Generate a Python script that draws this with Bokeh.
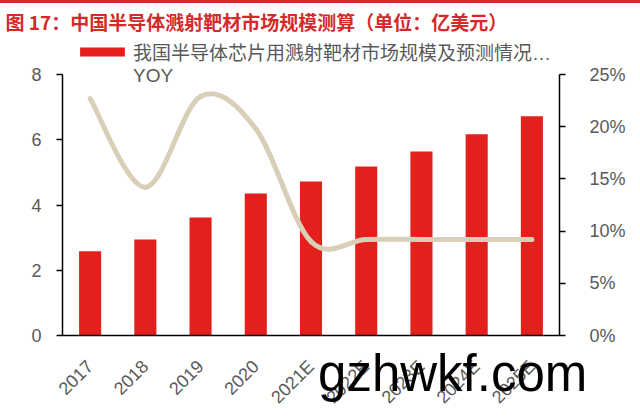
import math
from bokeh.plotting import figure
from bokeh.layouts import column
from bokeh.models import (Range1d, LinearAxis, Legend, LegendItem, FixedTicker,
                          PrintfTickFormatter, ColumnDataSource, Title, Div)
from bokeh.embed import file_html
from bokeh.resources import INLINE

# ---------------- data ----------------
years = ["2017", "2018", "2019", "2020", "2021E", "2022E", "2023E", "2024E", "2025E"]
market = [2.58, 2.94, 3.62, 4.35, 4.72, 5.18, 5.64, 6.17, 6.72]   # 亿美元
yoy = [22.7, 14.2, 22.9, 19.8, 9.0, 9.2, 9.2, 9.2, 9.2]          # %
left_ticks = [0, 2, 4, 6, 8]
right_ticks = [0, 5, 10, 15, 20, 25]
title_text = "图 17：中国半导体溅射靶材市场规模测算（单位：亿美元）"
bar_label = "我国半导体芯片用溅射靶材市场规模及预测情况…"
line_label = "YOY"
watermark = "gzhwkf.com"

BAR_RED = "#E3201B"
LINE_BEIGE = "#D9CFB8"
TITLE_RED = "#D42A2A"
GREY = "#595959"
NUM_FONT = "Liberation Sans"
CJK_FONT = "Noto Sans CJK SC"

# layout geometry (px in the figure)
W, H = 640, 416
TOP, BOTTOM = 31, 332          # frame top / bottom
AX_TOP = 71                    # where value 8 / 25% sits
scale = (BOTTOM - TOP) / (BOTTOM - AX_TOP)
L_MAX, R_MAX = left_ticks[-1], right_ticks[-1]

xs = list(range(len(years)))

p = figure(width=W, height=H, x_range=Range1d(-0.5, len(years) - 0.5),
           y_range=Range1d(0, L_MAX * scale), output_backend="svg",
           toolbar_location=None, min_border_left=62, min_border_right=81,
           min_border_top=TOP, min_border_bottom=H - BOTTOM)
p.extra_y_ranges = {"yoy": Range1d(0, R_MAX * scale)}
p.outline_line_color = None
p.xgrid.visible = False
p.ygrid.visible = False
p.background_fill_color = "white"
p.border_fill_color = "white"

src = ColumnDataSource(dict(x=xs, market=market))
bars = p.vbar(x="x", top="market", width=0.4, source=src, fill_color=BAR_RED,
              line_color=None)

# smoothed YOY line (Catmull-Rom -> cubic Bezier segments, like Excel's smoothed line)
x0s, y0s, x1s, y1s, cx0s, cy0s, cx1s, cy1s = [], [], [], [], [], [], [], []
n = len(yoy)
for i in range(n - 1):
    pm = max(i - 1, 0)
    pp = min(i + 2, n - 1)
    x0s.append(xs[i]); y0s.append(yoy[i])
    x1s.append(xs[i + 1]); y1s.append(yoy[i + 1])
    cx0s.append(xs[i] + (xs[i + 1] - xs[pm]) / 6.0)
    cy0s.append(yoy[i] + (yoy[i + 1] - yoy[pm]) / 6.0)
    cx1s.append(xs[i + 1] - (xs[pp] - xs[i]) / 6.0)
    cy1s.append(yoy[i + 1] - (yoy[pp] - yoy[i]) / 6.0)
bsrc = ColumnDataSource(dict(x0=x0s, y0=y0s, x1=x1s, y1=y1s,
                             cx0=cx0s, cy0=cy0s, cx1=cx1s, cy1=cy1s))
p.bezier(x0="x0", y0="y0", x1="x1", y1="y1", cx0="cx0", cy0="cy0", cx1="cx1",
         cy1="cy1", source=bsrc, y_range_name="yoy", line_color=LINE_BEIGE,
         line_width=5, line_cap="round")
legend_line = p.line(x=[], y=[], line_color=LINE_BEIGE, line_width=5,
                     y_range_name="yoy")

# ---------------- axes ----------------
for ax in [p.xaxis[0], p.yaxis[0]]:
    ax.axis_line_color = "black"
    ax.axis_line_width = 1.5
    ax.major_label_text_color = GREY
    ax.major_label_text_font = NUM_FONT
    ax.minor_tick_line_color = None

p.yaxis.ticker = FixedTicker(ticks=left_ticks)
p.yaxis.bounds = (left_ticks[0], L_MAX)
p.yaxis.major_tick_in = 0
p.yaxis.major_tick_out = 6
p.yaxis.major_tick_line_width = 1.5
p.yaxis.major_label_text_font_size = "18px"
p.yaxis.major_label_standoff = 15

xa = p.xaxis[0]
xa.ticker = FixedTicker(ticks=xs)
xa.major_label_overrides = {i: y for i, y in zip(xs, years)}
xa.major_tick_line_color = None
xa.major_label_orientation = math.pi / 4
xa.major_label_text_font_size = "18px"
xa.major_label_standoff = 22
# watermark of the source picture, drawn as the x axis' label over the tick labels
xa.axis_label = "\u00a0" * 20 + watermark
xa.axis_label_text_font = NUM_FONT
xa.axis_label_text_font_style = "normal"
xa.axis_label_text_font_size = "51px"
xa.axis_label_text_color = "black"
xa.axis_label_standoff = -72
xa.axis_label_align = "center"

ra = LinearAxis(y_range_name="yoy", ticker=FixedTicker(ticks=right_ticks),
                formatter=PrintfTickFormatter(format="%d%%"),
                bounds=(right_ticks[0], R_MAX))
ra.axis_line_color = "black"
ra.axis_line_width = 1.5
ra.major_tick_in = 0
ra.major_tick_out = 6
ra.major_tick_line_width = 1.5
ra.minor_tick_line_color = None
ra.major_label_text_color = GREY
ra.major_label_text_font = NUM_FONT
ra.major_label_text_font_size = "18px"
ra.major_label_text_align = "left"
ra.major_label_standoff = 24
p.add_layout(ra, "right")

# ---------------- legend (inside the tall frame, above the value 8) ----------------
legend = Legend(items=[LegendItem(label=bar_label, renderers=[bars]),
                       LegendItem(label=line_label, renderers=[legend_line])],
                location=(12, 248), orientation="vertical",
                glyph_width=56, glyph_height=11, label_standoff=3,
                label_text_font=NUM_FONT + ", " + CJK_FONT,
                label_text_font_size="19px",
                label_text_color=GREY, label_height=21, spacing=0,
                padding=0, margin=0, border_line_color=None,
                background_fill_alpha=0)
p.add_layout(legend)

# ---------------- title ----------------
t = Title(text=title_text, align="left", offset=-57, text_font=CJK_FONT,
          text_font_style="bold", text_font_size="19px", text_color=TITLE_RED,
          standoff=0)
p.add_layout(t, "above")

top_rule = Div(text="", width=W, height=3, margin=(0, 0, 0, 0),
               styles={"background-color": TITLE_RED})
page = column(top_rule, p, spacing=0, margin=(0, 0, 0, 0))

open("out.html", "w").write(file_html(page, INLINE))
